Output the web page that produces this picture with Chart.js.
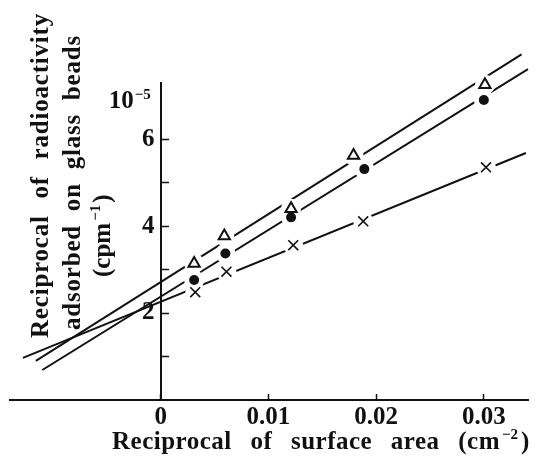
<!DOCTYPE html>
<html>
<head>
<meta charset="utf-8">
<script src="https://cdn.jsdelivr.net/npm/chart.js@4"></script>
<style>
  html, body { margin: 0; padding: 0; background: #fff; }
  canvas { display: block; }
</style>
</head>
<body>
<canvas id="chart" width="538" height="459"></canvas>
<script>
// values (x: cm^-2, y: 10^-5 cpm^-1)
const triX = [0.0031, 0.0059, 0.0121, 0.0179, 0.0301];
const triY = [3.14, 3.77, 4.40, 5.62, 7.25];
const dotX = [0.0031, 0.0060, 0.0121, 0.0189, 0.0300];
const dotY = [2.76, 3.37, 4.20, 5.31, 6.90];
const crossX = [0.0032, 0.0061, 0.0123, 0.0188, 0.0302];
const crossY = [2.48, 2.95, 3.56, 4.11, 5.35];

// straight fit lines, end points
const triLineX = [-0.0116, 0.0335];
const triLineY = [0.90, 7.95];
const dotLineX = [-0.0110, 0.0341];
const dotLineY = [0.69, 7.61];
const crossLineX = [-0.0128, 0.0339];
const crossLineY = [0.97, 5.68];

const xTicks = [0, 0.01, 0.02, 0.03];
const xTickLabels = ["0", "0.01", "0.02", "0.03"];
const yTicks = [1, 2, 3, 4, 5, 6];
const yTickLabels = ["", "2", "", "4", "", "6"];

const ink = "#111";
const serif = "'Liberation Serif', 'DejaVu Serif', serif";

function pts(xs, ys) {
  return xs.map((x, i) => ({ x, y: ys[i] }));
}
function lineSet(xs, ys) {
  return { data: pts(xs, ys), showLine: true, pointRadius: 0, borderColor: ink, borderWidth: 2, clip: false, order: 3 };
}
// white disc behind each marker, so the fit line breaks there
function haloSet(xs, ys) {
  return { data: pts(xs, ys), pointRadius: 10, pointBackgroundColor: "#fff", pointBorderColor: "#fff", pointBorderWidth: 0, clip: false, order: 2 };
}

// draws text so that it fills a given width (letter + word spacing)
function fitText(ctx, text, x, y, width, ls) {
  ctx.letterSpacing = ls + "px";
  ctx.wordSpacing = "0px";
  const w = ctx.measureText(text).width;
  const spaces = (text.match(/ /g) || []).length;
  if (spaces) ctx.wordSpacing = ((width - w) / spaces) + "px";
  ctx.fillText(text, x, y);
  const end = x + ctx.measureText(text).width;
  ctx.letterSpacing = "0px";
  ctx.wordSpacing = "0px";
  return end;
}

const textPlugin = {
  id: "texts",
  afterDraw(chart) {
    const ctx = chart.ctx;
    const xs = chart.scales.x, ys = chart.scales.y;
    ctx.save();
    ctx.fillStyle = ink;
    ctx.textBaseline = "alphabetic";

    // unit label at top of y axis
    const ax = xs.getPixelForValue(0);
    ctx.font = "bold 25px " + serif;
    ctx.textAlign = "right";
    const uy = ys.getPixelForValue(6.92) + 9;
    ctx.fillText("10", ax - 27, uy);
    ctx.font = "bold 15px " + serif;
    ctx.textAlign = "left";
    ctx.fillText("\u22125", ax - 26, uy - 9);

    // x axis title
    ctx.font = "bold 25px " + serif;
    let end = fitText(ctx, "Reciprocal of surface area (cm", 112, 449, 388, 0.5);
    ctx.font = "bold 15px " + serif;
    ctx.fillText("\u22122", end + 2, 439);
    end += ctx.measureText("\u22122").width + 5;
    ctx.font = "bold 25px " + serif;
    ctx.fillText(")", end, 449);

    // y axis title, three rotated lines
    ctx.save();
    ctx.rotate(-Math.PI / 2);
    ctx.textBaseline = "middle";
    ctx.font = "bold 25px " + serif;
    fitText(ctx, "Reciprocal of radioactivity", -338, 42, 325, 0.8);
    fitText(ctx, "adsorbed on glass beads", -330, 74, 295, 0.8);
    ctx.fillText("(cpm", -277, 104);
    let e = -277 + ctx.measureText("(cpm").width;
    ctx.font = "bold 15px " + serif;
    ctx.fillText("\u22121", e + 2, 96);
    e += ctx.measureText("\u22121").width + 4;
    ctx.font = "bold 25px " + serif;
    ctx.fillText(")", e, 104);
    ctx.restore();

    ctx.restore();
  }
};

new Chart(document.getElementById("chart"), {
  type: "scatter",
  data: {
    datasets: [
      lineSet(triLineX, triLineY),
      lineSet(dotLineX, dotLineY),
      lineSet(crossLineX, crossLineY),
      haloSet(triX, triY),
      haloSet(dotX, dotY),
      haloSet(crossX, crossY),
      { data: pts(triX, triY), pointStyle: "triangle", pointRadius: 6.5, pointBackgroundColor: "#fff", pointBorderColor: ink, pointBorderWidth: 2, clip: false, order: 1 },
      { data: pts(dotX, dotY), pointStyle: "circle", pointRadius: 5, pointBackgroundColor: ink, pointBorderColor: ink, pointBorderWidth: 0, clip: false, order: 1 },
      { data: pts(crossX, crossY), pointStyle: "crossRot", pointRadius: 7, pointBorderColor: ink, pointBorderWidth: 1.6, clip: false, order: 1 }
    ]
  },
  options: {
    responsive: false,
    animation: false,
    events: [],
    layout: { padding: { left: 10, right: 3, top: 83, bottom: 59 } },
    plugins: { legend: { display: false }, tooltip: { enabled: false } },
    scales: {
      x: {
        type: "linear",
        position: { y: 0 },
        min: -0.014,
        max: 0.0341,
        afterBuildTicks: s => { s.ticks = xTicks.map(v => ({ value: v })); },
        ticks: {
          callback: (v, i) => xTickLabels[i],
          color: ink,
          font: { family: serif, size: 25, weight: "bold" },
          padding: 10,
          maxRotation: 0,
          autoSkip: false
        },
        grid: { drawOnChartArea: false, drawTicks: true, tickLength: -7, tickWidth: 1.5, tickColor: ink },
        border: { display: true, color: ink, width: 2 }
      },
      y: {
        type: "linear",
        position: { x: 0 },
        min: 0,
        max: 7.29,
        afterBuildTicks: s => { s.ticks = yTicks.map(v => ({ value: v })); },
        ticks: {
          // trailing space keeps the label clear of the axis line
          callback: (v, i) => yTickLabels[i] ? yTickLabels[i] + " " : "",
          color: ink,
          font: { family: serif, size: 25, weight: "bold" },
          padding: 14,
          autoSkip: false
        },
        grid: { drawOnChartArea: false, drawTicks: true, tickLength: -9, tickWidth: 1.5, tickColor: ink },
        border: { display: true, color: ink, width: 2 }
      }
    }
  },
  plugins: [textPlugin]
});
</script>
</body>
</html>
